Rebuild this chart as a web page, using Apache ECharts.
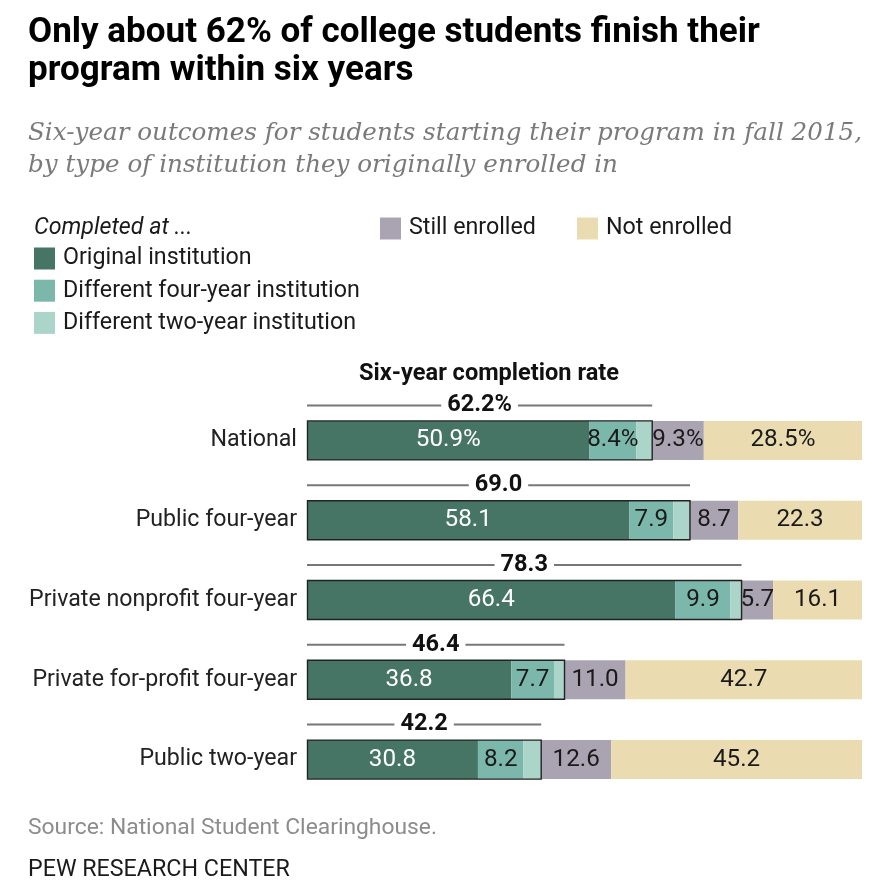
<!DOCTYPE html>
<html>
<head>
<meta charset="utf-8">
<script src="https://cdn.jsdelivr.net/npm/echarts@6/dist/echarts.min.js"></script>
<style>
html,body{margin:0;padding:0;background:#fff;}
#chart{width:884px;height:892px;}
</style>
</head>
<body>
<div id="chart"></div>
<script>
// ---- Data ----
const categories = ['National', 'Public four-year', 'Private nonprofit four-year', 'Private for-profit four-year', 'Public two-year'];
const originalInstitution = [50.9, 58.1, 66.4, 36.8, 30.8];
const differentFourYear = [8.4, 7.9, 9.9, 7.7, 8.2];
const differentTwoYear = [2.9, 3.0, 2.0, 1.9, 3.2];
const stillEnrolled = [9.3, 8.7, 5.7, 11.0, 12.6];
const notEnrolled = [28.5, 22.3, 16.1, 42.7, 45.2];
const completionRate = [62.2, 69.0, 78.3, 46.4, 42.2];
const seriesNames = ['Original institution', 'Different four-year institution', 'Different two-year institution', 'Still enrolled', 'Not enrolled'];

// ---- Style ----
const colors = ['#477565', '#7bb8ab', '#acd5ca', '#aaa4b2', '#eadcb0'];
const SANS = 'Roboto';
const SERIF = 'DejaVu Serif';
const ctx = document.createElement('canvas').getContext('2d');
function fit(text, style, family, target) {
  ctx.font = style + ' 40px ' + family;
  return 40 * target / ctx.measureText(text).width;
}
const titleL1 = 'Only about 62% of college students finish their';
const titleL2 = 'program within six years';
const subL1 = 'Six-year outcomes for students starting their program in fall 2015,';
const subL2 = 'by type of institution they originally enrolled in';
const titleSize = fit(titleL1, 'bold', SANS, 732);
const subSize = fit(subL1, 'italic', SERIF, 834);
const legendSize = fit('Different four-year institution', 'normal', SANS, 297);
const catSize = fit('Private nonprofit four-year', 'normal', SANS, 268);
const valSize = fit('28.5%', 'normal', SANS, 65);
const headSize = fit('Six-year completion rate', 'bold', SANS, 260);
const srcSize = fit('Source: National Student Clearinghouse.', 'normal', SANS, 409);
const pewSize = fit('PEW RESEARCH CENTER', 'normal', SANS, 262);

const chart = echarts.init(document.getElementById('chart'), null, {renderer: 'canvas'});

function fmt(p) {
  const v = p.value.toFixed(1);
  return p.dataIndex === 0 ? v + '%' : v;
}

const barSeries = seriesNames.map((name, k) => ({
  name: name,
  type: 'bar',
  stack: 'total',
  barWidth: 39,
  data: [originalInstitution, differentFourYear, differentTwoYear, stillEnrolled, notEnrolled][k],
  itemStyle: {color: colors[k]},
  label: {
    show: k !== 2,
    position: 'inside',
    formatter: fmt,
    color: k === 0 ? '#ffffff' : '#1a1a1a',
    fontFamily: SANS,
    fontSize: valSize
  },
  emphasis: {disabled: true},
  z: 2
}));

const bracketSeries = {
  type: 'custom',
  data: completionRate.map((v, i) => [v, i]),
  encode: {x: 0, y: 1},
  z: 5,
  silent: true,
  renderItem: function (params, api) {
    const total = api.value(0);
    const cat = api.value(1);
    const s = api.coord([0, cat]);
    const e = api.coord([total, cat]);
    const h = 39;
    const ly = s[1] - 35;
    const txt = cat === 0 ? total.toFixed(1) + '%' : total.toFixed(1);
    return {
      type: 'group',
      children: [
        {type: 'rect', shape: {x: s[0] + 0.5, y: s[1] - h / 2, width: e[0] - s[0] - 0.5, height: h},
         style: {fill: null, stroke: '#222', lineWidth: 1.4}},
        {type: 'line', shape: {x1: s[0], y1: ly, x2: e[0], y2: ly},
         style: {stroke: '#777', lineWidth: 2}},
        {type: 'text', x: (s[0] + e[0]) / 2, y: ly,
         style: {text: txt, align: 'center', verticalAlign: 'middle',
                 font: 'bold ' + headSize.toFixed(2) + 'px ' + SANS, fill: '#111',
                 backgroundColor: '#fff', padding: [2, 6]}}
      ]
    };
  }
};

const legendText = {fontFamily: SANS, fontSize: legendSize, color: '#1a1a1a', lineHeight: 22, padding: [0, 0, 0, 3]};

const option = {
  animation: false,
  backgroundColor: '#ffffff',
  color: colors,
  grid: {left: 307, right: 22, top: 400.5, height: 399, containLabel: false},
  xAxis: {type: 'value', min: 0, max: 100, show: false},
  yAxis: {
    type: 'category', data: categories, inverse: true,
    axisLine: {show: false}, axisTick: {show: false}, splitLine: {show: false},
    axisLabel: {color: '#222', fontFamily: SANS, fontSize: catSize, margin: 10, padding: [3, 0, 0, 0]}
  },
  legend: [
    {data: seriesNames.slice(0, 3), orient: 'vertical', left: 34, top: 247, itemWidth: 21, itemHeight: 22,
     itemGap: 9.2, icon: 'rect', textStyle: legendText, selectedMode: false, padding: 0},
    {data: [seriesNames[3]], left: 380, top: 217, itemWidth: 21, itemHeight: 22, icon: 'rect',
     textStyle: legendText, selectedMode: false, padding: 0},
    {data: [seriesNames[4]], left: 577, top: 217, itemWidth: 21, itemHeight: 22, icon: 'rect',
     textStyle: legendText, selectedMode: false, padding: 0}
  ],
  graphic: [
    {type: 'text', x: 28, y: 33, style: {text: titleL1, font: 'bold ' + titleSize.toFixed(2) + 'px ' + SANS, fill: '#000', verticalAlign: 'middle'}},
    {type: 'text', x: 28, y: 71, style: {text: titleL2, font: 'bold ' + titleSize.toFixed(2) + 'px ' + SANS, fill: '#000', verticalAlign: 'middle'}},
    {type: 'text', x: 28, y: 134, style: {text: subL1, font: 'italic ' + subSize.toFixed(2) + 'px "' + SERIF + '"', fill: '#7a7a7a', verticalAlign: 'middle'}},
    {type: 'text', x: 28, y: 166, style: {text: subL2, font: 'italic ' + subSize.toFixed(2) + 'px "' + SERIF + '"', fill: '#7a7a7a', verticalAlign: 'middle'}},
    {type: 'text', x: 34, y: 228, style: {text: 'Completed at ...', font: 'italic ' + legendSize.toFixed(2) + 'px ' + SANS, fill: '#1a1a1a', verticalAlign: 'middle'}},
    {type: 'text', x: 489, y: 374, style: {text: 'Six-year completion rate', font: 'bold ' + headSize.toFixed(2) + 'px ' + SANS, fill: '#111', align: 'center', verticalAlign: 'middle'}},
    {type: 'text', x: 28, y: 828, style: {text: 'Source: National Student Clearinghouse.', font: srcSize.toFixed(2) + 'px ' + SANS, fill: '#8c8c8c', verticalAlign: 'middle'}},
    {type: 'text', x: 28, y: 870, style: {text: 'PEW RESEARCH CENTER', font: pewSize.toFixed(2) + 'px ' + SANS, fill: '#1a1a1a', verticalAlign: 'middle'}}
  ],
  series: barSeries.concat([bracketSeries])
};
chart.setOption(option);
</script>
</body>
</html>
